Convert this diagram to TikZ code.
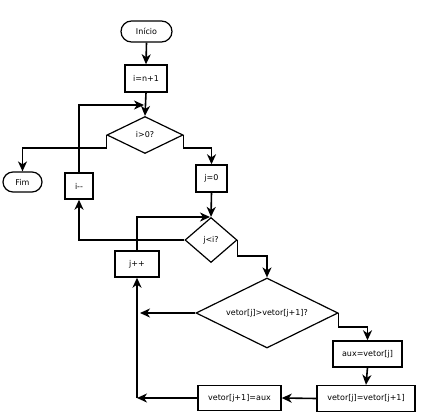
\documentclass[tikz,border=0pt]{standalone}
\usepackage{fontspec}
\setmainfont{DejaVu Sans}
\usetikzlibrary{shapes.geometric,shapes.misc,arrows.meta}
\begin{document}
\begin{tikzpicture}[x=1pt,y=-1pt,
  every node/.style={font=\fontsize{8}{9}\selectfont},
  box/.style={draw,line width=1.4pt,rectangle,inner sep=0pt},
  term/.style={draw,line width=1.2pt,rounded rectangle,inner sep=0pt},
  dia/.style={draw,line width=1.2pt,diamond,inner sep=0pt},
  arr/.style={line width=1.6pt,-{Stealth[length=10pt,width=9pt,inset=3pt]}}]
\useasboundingbox (0,0) rectangle (434,417);
\node[term,minimum width=51pt,minimum height=21pt] (inicio) at (146.5,31.5) {Início};
\node[box,minimum width=42pt,minimum height=27pt] (init) at (146,78.5) {i=n+1};
\node[dia,aspect=2,minimum width=76pt,minimum height=37pt] (d1) at (145,135) {i>0?};
\node[term,minimum width=39pt,minimum height=20pt] (fim) at (22.5,182) {Fim};
\node[box,minimum width=28pt,minimum height=26pt] (idec) at (79,186) {i-{}-};
\node[box,minimum width=31pt,minimum height=27pt] (j0) at (211.5,178.5) {j=0};
\node[dia,aspect=1,minimum width=52pt,minimum height=45pt] (d2) at (211,240) {j<i?};
\node[box,minimum width=44pt,minimum height=26pt] (jpp) at (137,264) {j++};
\node[dia,aspect=2,minimum width=142pt,minimum height=70pt] (d3) at (267,313) {vetor[j]>vetor[j+1]?};
\node[box,minimum width=69pt,minimum height=26pt] (aux) at (367.5,354) {aux=vetor[j]};
\node[box,minimum width=98pt,minimum height=26pt] (swap) at (366,398.5) {vetor[j]=vetor[j+1]};
\node[box,minimum width=83pt,minimum height=25pt] (back) at (239.5,398) {vetor[j+1]=aux};
\coordinate (l1) at (144,105);
\coordinate (l2) at (210,217);
\coordinate (l3) at (140,313);
\coordinate (c4) at (137,398);
\draw[arr] (inicio.south) -- (init.north);
\draw[arr] (init.south) -- (d1.north);
\draw[arr] (d1.west) -- ++(0,13) -| (fim.north);
\draw[arr] (d1.east) -- ++(0,13) -| (j0.north);
\draw[arr] (j0.south) -- (d2.north);
\draw[arr] (d2.west) -| (idec.south);
\draw[arr] (idec.north) |- (l1);
\draw[arr] (d2.east) -- ++(0,16) -| (d3.north);
\draw[arr] (jpp.north) |- (l2);
\draw[arr] (d3.west) -- (l3);
\draw[arr] (d3.east) -- ++(0,14) -| (aux.north);
\draw[arr] (aux.south) -- (swap.north);
\draw[arr] (swap.west) -- (back.east);
\draw[arr] (back.west) -- (c4);
\draw[arr] (c4) -- (jpp.south);
\end{tikzpicture}
\end{document}
